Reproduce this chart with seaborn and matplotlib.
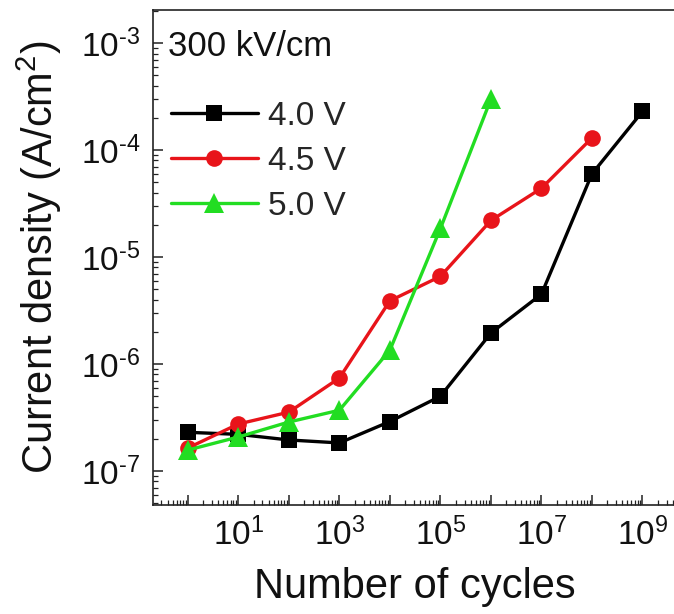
import numpy as np
import pandas as pd
import matplotlib
matplotlib.use("Agg")
import matplotlib.pyplot as plt
import seaborn as sns
from matplotlib.ticker import LogLocator, FuncFormatter, NullFormatter

# values
cycles_40 = [1e0, 1e1, 1e2, 1e3, 1e4, 1e5, 1e6, 1e7, 1e8, 1e9]
j_40 = [2.3e-7, 2.2e-7, 1.95e-7, 1.83e-7, 2.9e-7, 5.0e-7, 1.95e-6, 4.5e-6, 6.0e-5, 2.3e-4]

cycles_45 = [1e0, 1e1, 1e2, 1e3, 1e4, 1e5, 1e6, 1e7, 1e8]
j_45 = [1.64e-7, 2.75e-7, 3.55e-7, 7.4e-7, 3.9e-6, 6.6e-6, 2.2e-5, 4.4e-5, 1.3e-4]

cycles_50 = [1e0, 1e1, 1e2, 1e3, 1e4, 1e5, 1e6]
j_50 = [1.57e-7, 2.08e-7, 2.87e-7, 3.7e-7, 1.35e-6, 1.85e-5, 3.0e-4]

voltages = ["4.0 V", "4.5 V", "5.0 V"]
colors = ["#000000", "#e8141a", "#22dd22"]
markers = ["s", "o", "^"]

df = pd.concat([
    pd.DataFrame({"cycles": cycles_40, "J": j_40, "Voltage": voltages[0]}),
    pd.DataFrame({"cycles": cycles_45, "J": j_45, "Voltage": voltages[1]}),
    pd.DataFrame({"cycles": cycles_50, "J": j_50, "Voltage": voltages[2]}),
], ignore_index=True)

sns.set_style("ticks")
plt.rcParams["font.family"] = ["Liberation Sans", "DejaVu Sans"]
plt.rcParams["mathtext.fontset"] = "custom"
plt.rcParams["mathtext.rm"] = "Liberation Sans"
plt.rcParams["mathtext.it"] = "Liberation Sans:italic"
plt.rcParams["mathtext.bf"] = "Liberation Sans:bold"

fig = plt.figure(figsize=(6.74, 6.14), dpi=100)
ax = fig.add_axes([153 / 674, 1 - 505 / 614, 540 / 674, 495 / 614])
ax.set_xscale("log")
ax.set_yscale("log")

sns.lineplot(data=df, x="cycles", y="J", hue="Voltage", style="Voltage",
             hue_order=voltages, style_order=voltages,
             palette=dict(zip(voltages, colors)),
             markers=dict(zip(voltages, markers)), dashes=False,
             estimator=None, linewidth=2.4, markersize=12,
             markeredgewidth=0, ax=ax)
# triangles look larger in the original
ax.lines[2].set_markersize(14)

ax.set_xlim(10 ** -0.69, 10 ** 10.0)
ax.set_ylim(10 ** -7.318, 10 ** -2.69)

# ticks
ax.xaxis.set_major_locator(LogLocator(base=10, numticks=20))
ax.xaxis.set_minor_locator(LogLocator(base=10, subs=np.arange(2, 10), numticks=20))
ax.yaxis.set_major_locator(LogLocator(base=10, numticks=20))
ax.yaxis.set_minor_locator(LogLocator(base=10, subs=np.arange(2, 10), numticks=20))


def xfmt(v, pos):
    e = int(round(np.log10(v)))
    if e % 2 == 0:
        return ""
    return r"$\mathregular{10^{%d}}$" % e


def yfmt(v, pos):
    e = int(round(np.log10(v)))
    return r"$\mathregular{10^{\text{-}%d}}$" % abs(e)


ax.xaxis.set_major_formatter(FuncFormatter(xfmt))
ax.yaxis.set_major_formatter(FuncFormatter(yfmt))
ax.xaxis.set_minor_formatter(NullFormatter())
ax.yaxis.set_minor_formatter(NullFormatter())
ax.tick_params(which="major", direction="in", length=7, width=1.1, labelsize=24, pad=9,
               top=False, right=False, colors="#222222", labelcolor="#111111")
ax.tick_params(which="minor", direction="in", length=3.8, width=0.9,
               top=False, right=False, colors="#222222")

for s in ["left", "bottom", "top"]:
    ax.spines[s].set_linewidth(1.2)
    ax.spines[s].set_color("#222222")
ax.spines["right"].set_visible(False)

ax.set_xlabel("Number of cycles", fontsize=30, color="#111111")
ax.set_ylabel(r"Current density (A/cm$^\mathregular{2}$)", fontsize=30, color="#111111")
ax.xaxis.set_label_coords(0.484, -0.125)
ax.yaxis.set_label_coords(-0.165, 0.5)

# legend built from the plotted lines
handles = ax.lines[:3]
ax.get_legend().remove()
fig.legend(handles, voltages, loc="upper left", bbox_to_anchor=(171 / 674, 1 - 101 / 614),
           frameon=False, fontsize=24, handlelength=2.6, handletextpad=0.3,
           labelspacing=0.42, borderpad=0, borderaxespad=0)

fig.text(168 / 674, 1 - 47 / 614, "300 kV/cm", fontsize=25, va="center", color="#111111")

fig.savefig("out.png", dpi=100)
